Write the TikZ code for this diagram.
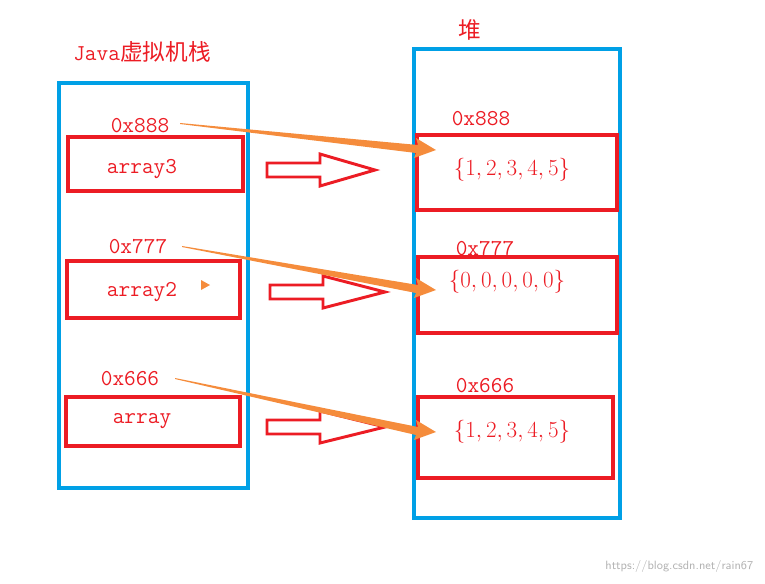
\documentclass[tikz,border=0pt]{standalone}
\usepackage{fontspec}
\newfontfamily\cjk{Noto Sans CJK SC}
\usepackage{tikz}
\usepackage{xcolor}
\definecolor{stackblue}{RGB}{0,160,230}
\definecolor{boxred}{RGB}{236,28,36}
\definecolor{refora}{RGB}{245,140,60}
\tikzset{
  frame/.style={draw=stackblue, line width=3pt},
  cell/.style={draw=boxred, line width=2.6pt},
  lbl/.style={text=boxred, font=\fontsize{17}{20}\selectfont\ttfamily},
  val/.style={text=boxred, font=\fontsize{17}{20}\selectfont},
  hollow/.style={draw=boxred, line width=2.2pt, fill=white},
  refline/.style={fill=refora}
}
\begin{document}
\begin{tikzpicture}[x=0.75pt,y=-0.75pt]
\useasboundingbox (0,0) rectangle (765,583);
% Pila
\draw[frame] (59,83) rectangle (248,488);
\node[text=boxred, font=\fontsize{17}{20}\selectfont] (tstack) at (142,52) {\ttfamily Java\cjk 虚拟机栈};
\draw[cell] (68,137) rectangle (243,191);
\draw[cell] (67,261) rectangle (240,318);
\draw[cell] (66,397) rectangle (240,446);
\node[lbl] (a3) at (142,169) {array3};
\node[lbl] (a2) at (142,292) {array2};
\node[lbl] (a1) at (142,421) {array};
\node[lbl] (p3) at (140,126) {0x888};
\node[lbl] (p2) at (138,247) {0x777};
\node[lbl] (p1) at (130,379) {0x666};
\fill[refora] (201,280) -- (210,285) -- (201,290) -- cycle;

% Montón
\draw[frame] (414,49) rectangle (620,518);
\node[text=boxred, font=\fontsize{17}{20}\selectfont\cjk] (theap) at (470,30) {堆};
\draw[cell] (417,135) rectangle (617,210);
\draw[cell] (418,257) rectangle (617,333);
\draw[cell] (418,397) rectangle (613,478);
\node[lbl] (h3) at (481,119) {0x888};
\node[lbl] (h2) at (485,249) {0x777};
\node[lbl] (h1) at (485,386) {0x666};
\node[val] (v3) at (512,170) {$\{1,2,3,4,5\}$};
\node[val] (v2) at (507,282) {$\{0,0,0,0,0\}$};
\node[val] (v1) at (512,432) {$\{1,2,3,4,5\}$};

% Flechas huecas
\foreach \y/\xs/\xe in {170/267/375, 292/270/385, 427/267/385}{
  \draw[hollow] (\xs,\y-7) -- (\xs+53,\y-7) -- (\xs+53,\y-16) -- (\xe,\y)
    -- (\xs+53,\y+16) -- (\xs+53,\y+7) -- (\xs,\y+7) -- cycle;
}

% Referencias
\foreach \xa/\ya/\yb in {180/123/150, 182/246/290, 175/378/432}{
  \fill[refline] (\xa,\ya) -- (418,\yb-5) -- (416,\yb-12) -- (436,\yb)
    -- (414,\yb+8) -- (416,\yb+3) -- (\xa,\ya+1) -- cycle;
}
\node[text=gray!60, font=\fontsize{9}{10}\selectfont\sffamily, anchor=east] (wm) at (758,566) {https://blog.csdn.net/rain67};
\end{tikzpicture}
\end{document}
